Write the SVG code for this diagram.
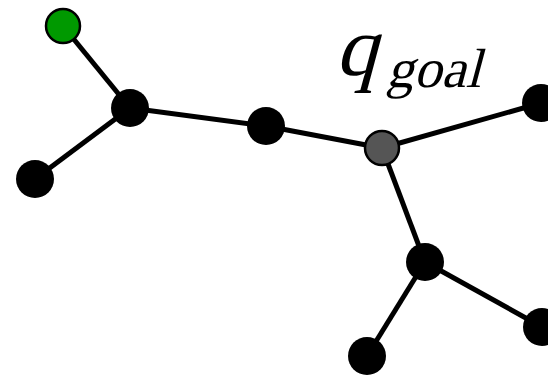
<svg xmlns="http://www.w3.org/2000/svg" width="548" height="376" viewBox="0 0 548 376">
<style>
.e{stroke:#000;stroke-width:5;fill:none}
.n{fill:#000}
.s{stroke:#000;stroke-width:2.5}
</style>
<rect width="548" height="376" fill="#fff"/>
<g id="edges">
<line class="e" x1="63" y1="26" x2="130" y2="108"/>
<line class="e" x1="130" y1="108" x2="35" y2="179"/>
<line class="e" x1="130" y1="108" x2="266" y2="126"/>
<line class="e" x1="266" y1="126" x2="382" y2="148"/>
<line class="e" x1="382" y1="148" x2="541" y2="103"/>
<line class="e" x1="382" y1="148" x2="425" y2="262"/>
<line class="e" x1="425" y1="262" x2="367" y2="356"/>
<line class="e" x1="425" y1="262" x2="542" y2="327"/>
</g>
<g id="start"><circle cx="63" cy="26" r="17" fill="#009900" class="s"/></g>
<g id="n1"><circle class="n" cx="130" cy="108" r="19"/></g>
<g id="n2"><circle class="n" cx="35" cy="179" r="19"/></g>
<g id="n3"><circle class="n" cx="266" cy="126" r="19"/></g>
<g id="goal"><circle cx="382" cy="148" r="17" fill="#555" class="s"/></g>
<g id="n4"><circle class="n" cx="541" cy="103" r="19"/></g>
<g id="n5"><circle class="n" cx="425" cy="262" r="19"/></g>
<g id="n6"><circle class="n" cx="367" cy="356" r="19"/></g>
<g id="n7"><circle class="n" cx="542" cy="327" r="19"/></g>
<g id="label" font-family="Liberation Serif, Times New Roman, serif" fill="#000">
<text transform="translate(335,75) skewX(-15)" font-size="84">q</text>
<text transform="translate(386,87) skewX(-15)" font-size="55">goal</text>
</g>
</svg>
